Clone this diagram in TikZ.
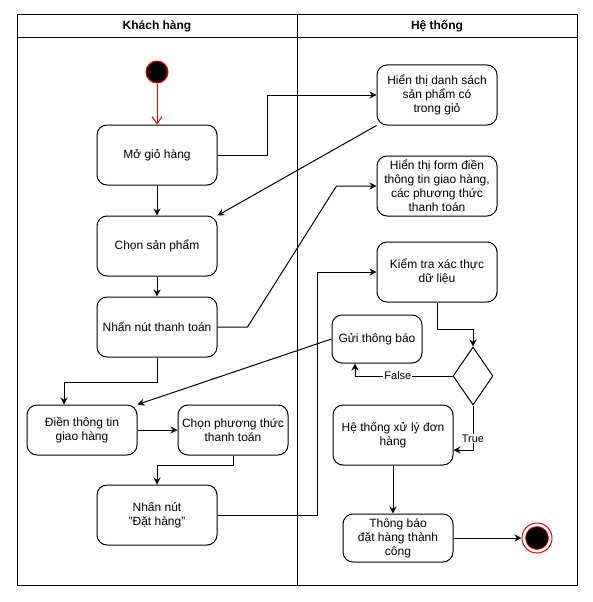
\documentclass[tikz,border=0pt]{standalone}
\usepackage{fontspec}
\setmainfont{Liberation Sans}
\usetikzlibrary{positioning,shapes.geometric,arrows.meta}
\begin{document}
\begin{tikzpicture}[x=1pt,y=-1pt,line width=1pt,font=\fontsize{12}{14}\selectfont]

  % Definitions
  \tikzstyle{Activity} = [rectangle, rounded corners=10pt, minimum width=120pt, minimum height=60pt, inner sep=2pt, align=center, draw=black]
  \tikzstyle{Small} = [Activity, minimum width=110pt, minimum height=50pt]
  \tikzstyle{Decision} = [diamond, minimum width=40pt, minimum height=58pt, inner sep=0pt, draw=black]
  \tikzstyle{arrow} = [->,>={Stealth[length=7pt,width=7pt]}]
  \tikzstyle{Label} = [fill=white, inner sep=1pt, font=\fontsize{11}{13}\selectfont]

  \useasboundingbox (0,0) rectangle (593,602);

  % Swimlanes
  \draw (17,15) rectangle (577,585);
  \draw (17,38) -- (577,38);
  \draw (297,15) -- (297,585);
  \node (kh) at (157,26) {\bfseries Khách hàng};
  \node (ht) at (437,26) {\bfseries Hệ thống};

  % Customer lane
  \node (start) [circle, fill=black, draw=red, minimum size=22pt, inner sep=0pt] at (157,72) {};
  \node (mo) [Activity] at (157,155) {Mở giỏ hàng};
  \node (chon) [Activity, below=30pt of mo] {Chọn sản phẩm};
  \node (nhan) [Activity, below=20pt of chon] {Nhấn nút thanh toán};
  \node (dien) [Small] at (82,430) {Điền thông tin\\giao hàng};
  \node (chonpt) [Small, right=40pt of dien] {Chọn phương thức\\thanh toán};
  \node (dat) [Activity] at (157,515) {Nhấn nút\\"Đặt hàng"};

  % System lane
  \node (hienthi) [Activity] at (437,95) {Hiển thị danh sách\\sản phẩm có\\trong giỏ};
  \node (form) [Activity, below=30pt of hienthi] {Hiển thị form điền\\thông tin giao hàng,\\các phương thức\\thanh toán};
  \node (kiemtra) [Activity, below=25pt of form] {Kiểm tra xác thực\\dữ liệu};
  \node (gui) [Activity, minimum width=90pt, minimum height=48pt] at (377,339) {Gửi thông báo};
  \node (dec) [Decision] at (473,376) {};
  \node (xuly) [Activity] at (393,435) {Hệ thống xử lý đơn\\hàng};
  \node (tb) [Small, minimum height=48pt] at (398,538) {Thông báo\\đặt hàng thành\\công};
  \node (endo) [circle, draw=red, fill=white, minimum size=30pt, inner sep=0pt] at (537,538) {};
  \node (endi) [circle, draw=red, fill=black, line width=0.6pt, minimum size=23pt, inner sep=0pt] at (endo) {};

  \draw [->, red, >={Straight Barb[length=7pt,width=10pt]}] (start) -- (mo);
  \draw [arrow] (mo.east) -- ++(50,0) |- (hienthi.west);
  \draw [arrow] (hienthi.south west) -- (chon.north east);
  \draw [arrow] (mo) -- (chon);
  \draw [arrow] (chon) -- (nhan);
  \draw [arrow] (nhan.east) -- ++(30,0) -- ([xshift=-40pt]form.west) -- (form.west);
  \draw [arrow] (nhan.south) -- ++(0,25) -| ([xshift=-18pt]dien.north);
  \draw [arrow] (gui.west) -- (dien.north east);
  \draw [arrow] (dien) -- (chonpt);
  \draw [arrow] (chonpt.south) -- ++(0,10) -| (dat.north);
  \draw [arrow] (dat.east) -- ++(100,0) |- (kiemtra.west);
  \draw [arrow] (kiemtra.south) -- ++(0,27) -| (dec.north);
  \draw [arrow] (dec.west) -| node[Label, pos=0.28] {False} ([xshift=-22pt]gui.south);
  \draw [arrow] (dec.south) |- node[Label, pos=0.37] {True} ([yshift=-15pt]xuly.east);
  \draw [arrow] ([xshift=-5pt]tb.north |- xuly.south) -- ([xshift=-5pt]tb.north);
  \draw [arrow] (tb.east) -- (endo.west);

\end{tikzpicture}
\end{document}
